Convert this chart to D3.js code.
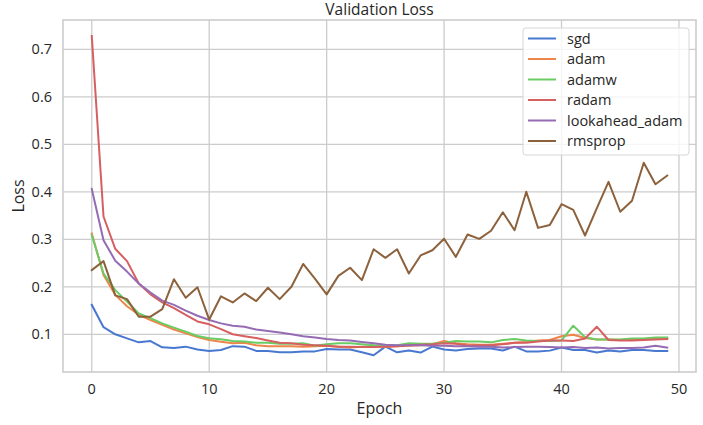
<!DOCTYPE html>
<html>
<head>
<meta charset="utf-8">
<script src="https://cdn.jsdelivr.net/npm/d3@7"></script>
<style>
  body { margin: 0; background: #fff; }
  text { font-family: "Open Sans", "Noto Sans", sans-serif; fill: #262626; }
</style>
</head>
<body>
<div id="chart"></div>
<script>
const names = ['sgd', 'adam', 'adamw', 'radam', 'lookahead_adam', 'rmsprop'];
const colors = ['#4878d0', '#ee854a', '#6acc64', '#d65f5f', '#956cb4', '#8c613c'];
const xTicks = [0, 10, 20, 30, 40, 50];
const yTicks = [0.1, 0.2, 0.3, 0.4, 0.5, 0.6, 0.7];

const sgd = [0.162, 0.115, 0.100, 0.0915, 0.083, 0.0857, 0.0725, 0.071, 0.074, 0.068, 0.065, 0.067, 0.075,
  0.074, 0.065, 0.065, 0.062, 0.062, 0.064, 0.064, 0.069, 0.068, 0.068, 0.062, 0.056, 0.074, 0.062,
  0.066, 0.0615, 0.074, 0.068, 0.066, 0.069, 0.070, 0.070, 0.066, 0.074, 0.064, 0.064,
  0.0656, 0.072, 0.067, 0.067, 0.0615, 0.066, 0.064, 0.067, 0.067, 0.065, 0.065];
const adam = [0.312, 0.225, 0.183, 0.159, 0.141, 0.130, 0.120, 0.110, 0.102, 0.094, 0.088, 0.0845, 0.081,
  0.082, 0.077, 0.075, 0.075, 0.075, 0.074, 0.075, 0.076, 0.074, 0.072, 0.074, 0.075, 0.074, 0.075,
  0.076, 0.077, 0.079, 0.086, 0.081, 0.079, 0.078, 0.078, 0.080, 0.082, 0.084, 0.087,
  0.088, 0.096, 0.099, 0.092, 0.089, 0.089, 0.088, 0.089, 0.090, 0.091, 0.091];
const adamw = [0.309, 0.228, 0.193, 0.169, 0.144, 0.134, 0.123, 0.114, 0.1055, 0.0965, 0.0915, 0.0895, 0.086,
  0.085, 0.082, 0.082, 0.080, 0.080, 0.081, 0.076, 0.079, 0.081, 0.081, 0.079, 0.077, 0.075, 0.077,
  0.081, 0.080, 0.080, 0.082, 0.086, 0.085, 0.085, 0.083, 0.088, 0.090, 0.087, 0.086,
  0.086, 0.087, 0.118, 0.094, 0.089, 0.089, 0.089, 0.091, 0.091, 0.093, 0.093];
const radam = [0.728, 0.348, 0.280, 0.254, 0.207, 0.184, 0.167, 0.155, 0.141, 0.127, 0.121, 0.111, 0.100,
  0.096, 0.092, 0.087, 0.082, 0.081, 0.078, 0.077, 0.076, 0.074, 0.074, 0.073, 0.073, 0.074, 0.075,
  0.077, 0.078, 0.079, 0.081, 0.080, 0.076, 0.077, 0.077, 0.079, 0.082, 0.082, 0.085,
  0.087, 0.087, 0.086, 0.091, 0.116, 0.088, 0.087, 0.087, 0.088, 0.089, 0.090];
const lookahead = [0.406, 0.298, 0.255, 0.232, 0.207, 0.188, 0.171, 0.162, 0.150, 0.139, 0.130, 0.123, 0.118,
  0.116, 0.110, 0.107, 0.104, 0.100, 0.096, 0.093, 0.090, 0.088, 0.087, 0.084, 0.081, 0.078, 0.077,
  0.077, 0.077, 0.076, 0.076, 0.075, 0.075, 0.074, 0.074, 0.072, 0.073, 0.074, 0.074,
  0.073, 0.072, 0.073, 0.071, 0.072, 0.070, 0.071, 0.071, 0.072, 0.076, 0.072];
const rmsprop = [0.235, 0.254, 0.182, 0.174, 0.137, 0.137, 0.153, 0.216, 0.177, 0.199, 0.131, 0.180, 0.167,
  0.186, 0.170, 0.198, 0.174, 0.200, 0.248, 0.217, 0.184, 0.223, 0.240, 0.214, 0.279, 0.261, 0.279,
  0.228, 0.266, 0.277, 0.301, 0.263, 0.310, 0.301, 0.318, 0.357, 0.319, 0.400, 0.324,
  0.330, 0.374, 0.362, 0.308, 0.365, 0.421, 0.358, 0.381, 0.461, 0.416, 0.434];

const series = [sgd, adam, adamw, radam, lookahead, rmsprop];

const width = 703;
const height = 425;
const margin = { top: 20, right: 7, bottom: 53, left: 63 };

const svg = d3.select('#chart')
  .append('svg')
  .attr('width', width)
  .attr('height', height);

const x = d3.scaleLinear()
  .domain([-2.45, 51.45])
  .range([margin.left, width - margin.right]);

const y = d3.scaleLinear()
  .domain([0.0206, 0.7617])
  .range([height - margin.bottom, margin.top]);

// grid
svg.append('g')
  .selectAll('line')
  .data(xTicks)
  .enter()
  .append('line')
  .attr('x1', d => x(d)).attr('x2', d => x(d))
  .attr('y1', margin.top).attr('y2', height - margin.bottom)
  .attr('stroke', '#cccccc')
  .attr('stroke-width', 1.3);

svg.append('g')
  .selectAll('line')
  .data(yTicks)
  .enter()
  .append('line')
  .attr('x1', margin.left).attr('x2', width - margin.right)
  .attr('y1', d => y(d)).attr('y2', d => y(d))
  .attr('stroke', '#cccccc')
  .attr('stroke-width', 1.3);

// frame
svg.append('rect')
  .attr('x', margin.left)
  .attr('y', margin.top)
  .attr('width', width - margin.left - margin.right)
  .attr('height', height - margin.top - margin.bottom)
  .attr('fill', 'none')
  .attr('stroke', '#cccccc')
  .attr('stroke-width', 1.6);

// tick labels
svg.append('g')
  .selectAll('text')
  .data(xTicks)
  .enter()
  .append('text')
  .attr('x', d => x(d))
  .attr('y', height - margin.bottom + 22)
  .attr('text-anchor', 'middle')
  .style('font-size', '14.5px')
  .text(d => d);

svg.append('g')
  .selectAll('text')
  .data(yTicks)
  .enter()
  .append('text')
  .attr('x', margin.left - 11)
  .attr('y', d => y(d))
  .attr('dy', '0.35em')
  .attr('text-anchor', 'end')
  .style('font-size', '14.5px')
  .text(d => d.toFixed(1));

// axis labels + title
svg.append('text')
  .attr('x', (margin.left + width - margin.right) / 2)
  .attr('y', 414)
  .attr('text-anchor', 'middle')
  .style('font-size', '16px')
  .text('Epoch');

svg.append('text')
  .attr('transform', `translate(24,${(margin.top + height - margin.bottom) / 2}) rotate(-90)`)
  .attr('text-anchor', 'middle')
  .style('font-size', '16px')
  .text('Loss');

svg.append('text')
  .attr('x', (margin.left + width - margin.right) / 2)
  .attr('y', 15)
  .attr('text-anchor', 'middle')
  .style('font-size', '15.5px')
  .text('Validation Loss');

// lines
const line = d3.line()
  .x((d, i) => x(i))
  .y(d => y(d));

svg.append('g')
  .selectAll('path')
  .data(series)
  .enter()
  .append('path')
  .attr('d', d => line(d))
  .attr('fill', 'none')
  .attr('stroke', (d, i) => colors[i])
  .attr('stroke-width', 2)
  .attr('stroke-linejoin', 'round')
  .attr('stroke-linecap', 'square');

// legend
const legend = svg.append('g').attr('transform', 'translate(523,28)');

legend.append('rect')
  .attr('width', 166)
  .attr('height', 127)
  .attr('rx', 3)
  .attr('fill', 'rgba(255,255,255,0.8)')
  .attr('stroke', '#d6d6d6')
  .attr('stroke-width', 1);

const item = legend.selectAll('g')
  .data(names)
  .enter()
  .append('g')
  .attr('transform', (d, i) => `translate(0,${10.5 + i * 20.5})`);

item.append('line')
  .attr('x1', 5).attr('x2', 33)
  .attr('stroke', (d, i) => colors[i])
  .attr('stroke-width', 2);

item.append('text')
  .attr('x', 44)
  .attr('dy', '0.35em')
  .style('font-size', '14.5px')
  .text(d => d);
</script>
</body>
</html>
